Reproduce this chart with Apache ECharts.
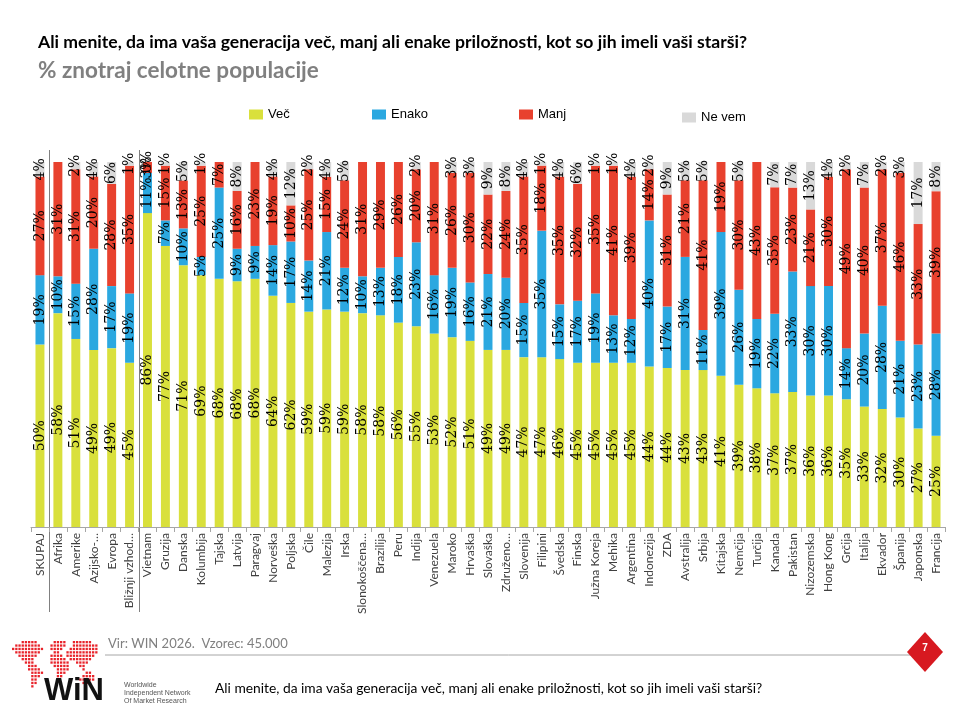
<!DOCTYPE html>
<html>
<head>
<meta charset="utf-8">
<title>WIN 2026</title>
<script src="https://cdn.jsdelivr.net/npm/echarts@6/dist/echarts.min.js"></script>
<style>
  html, body { margin: 0; padding: 0; background: #fff; }
  #main { width: 960px; height: 720px; }
</style>
</head>
<body>
<div id="main"></div>
<script>
'use strict';

var categories = ['SKUPAJ', 'Afrika', 'Amerike', 'Azijsko-…', 'Evropa', 'Bližnji vzhod…',
    'Vietnam', 'Gruzija', 'Danska', 'Kolumbija', 'Tajska', 'Latvija', 'Paragvaj', 'Norveška',
    'Poljska', 'Čile', 'Malezija', 'Irska', 'Slonokoščena…', 'Brazilija', 'Peru', 'Indija',
    'Venezuela', 'Maroko', 'Hrvaška', 'Slovaška', 'Združeno…', 'Slovenija', 'Filipini', 'Švedska',
    'Finska', 'Južna Koreja', 'Mehika', 'Argentina', 'Indonezija', 'ZDA', 'Avstralija', 'Srbija',
    'Kitajska', 'Nemčija', 'Turčija', 'Kanada', 'Pakistan', 'Nizozemska', 'Hong Kong', 'Grčija',
    'Italija', 'Ekvador', 'Španija', 'Japonska', 'Francija'];

var vec = [50, 58, 51, 49, 49, 45,
    86, 77, 71, 69, 68, 68, 68, 64, 62, 59, 59, 59, 58, 58, 56, 55, 53, 52, 51, 49, 49, 47, 47, 46,
    45, 45, 45, 45, 44, 44, 43, 43, 41, 39, 38, 37, 37, 36, 36, 35, 33, 32, 30, 27, 25];

var enako = [19, 10, 15, 28, 17, 19,
    11, 7, 10, 5, 25, 9, 9, 14, 17, 14, 21, 12, 10, 13, 18, 23, 16, 19, 16, 21, 20, 15, 35, 15,
    17, 19, 13, 12, 40, 17, 31, 11, 39, 26, 19, 22, 33, 30, 30, 14, 20, 28, 21, 23, 28];

var manj = [27, 31, 31, 20, 28, 35,
    3, 15, 13, 25, 7, 16, 23, 19, 10, 25, 15, 24, 31, 29, 26, 20, 31, 26, 30, 22, 24, 35, 18, 35,
    32, 35, 41, 39, 14, 31, 21, 41, 19, 30, 43, 35, 23, 21, 30, 49, 40, 37, 46, 33, 39];

// null = ni podatka (brez oznake)
var neVem = [4, null, 2, 4, 6, 1,
    0, 1, 5, 1, null, 8, null, 4, 12, 2, 4, 5, null, null, null, 2, null, 3, 3, 9, 8, 4, 1, 4,
    6, 1, 1, 4, 2, 9, 5, 5, null, 5, null, 7, 7, 13, 4, 2, 7, 2, 3, 17, 8];

var seriesNames = ['Več', 'Enako', 'Manj', 'Ne vem'];
var seriesColors = ['#D9E03C', '#2BA8E0', '#E8412E', '#D9D9D9'];

var worldMask = [
    '   .....     ....  ......  ',
    ' ........   .....  ........',
    '..........  ....  .........',
    ' ........    ..  ..........',
    '  ......    .... ......... ',
    '   ....     ..... .......  ',
    '    ...     ......  ....   ',
    '     ...     .....   ..    ',
    '     ....     ....    .    ',
    '      ....    ...      ..  ',
    '      ...     ..      .... ',
    '      ..             ..... ',
    '      ..              ...  ',
    '      .                    '
];

var chart = echarts.init(document.getElementById('main'));

var totals = categories.map(function (c, i) {
    return vec[i] + enako[i] + manj[i] + (neVem[i] || 0);
});

var makeSeries = function (name, arr, color) {
    return {
        name: name,
        type: 'bar',
        stack: 'all',
        barWidth: '50%',
        itemStyle: { color: color },
        label: {
            show: true,
            position: 'inside',
            rotate: 90,
            color: '#000',
            fontFamily: 'DejaVu Serif',
            fontSize: 14,
            formatter: function (p) {
                return p.data.raw === null ? '' : p.data.raw + '%';
            }
        },
        data: arr.map(function (v, i) {
            // 100 % naložen stolpec kot v izvirniku
            return { value: v === null ? 0 : v / totals[i] * 100, raw: v };
        })
    };
};

var legendLeft = [244, 367, 514, 677];
var legends = seriesNames.map(function (name, i) {
    return {
        data: [name],
        left: legendLeft[i],
        top: i === 3 ? 106 : 103,
        icon: 'rect',
        itemWidth: 14,
        itemHeight: 10,
        itemGap: 8,
        selectedMode: false,
        textStyle: { fontFamily: 'Liberation Sans', fontSize: 13, color: '#000' }
    };
});

var graphics = [];

// logo: pikčast zemljevid
worldMask.forEach(function (row, r) {
    for (var c = 0; c < row.length; c++) {
        if (row.charAt(c) === '.') {
            graphics.push({
                type: 'rect',
                shape: { x: 12 + c * 3.2, y: 641 + r * 3.4, width: 2.3, height: 2.3 },
                style: { fill: '#E8232A' },
                silent: true
            });
        }
    }
});

graphics.push(
    { type: 'text', left: 44, top: 676, style: { text: 'WiN', font: 'bold 31px "Liberation Sans"', fill: '#111' } },
    { type: 'text', left: 124, top: 681, style: { text: 'Worldwide\nIndependent Network\nOf Market Research', font: '7px "Liberation Sans"', fill: '#555', lineHeight: 8 } },
    { type: 'text', left: 215, top: 682, style: { text: 'Ali menite, da ima vaša generacija več, manj ali enake priložnosti, kot so jih imeli vaši starši?', font: '13.8px Lato', fill: '#000' } },
    { type: 'text', left: 108, top: 637, style: { text: 'Vir: WIN 2026.  Vzorec: 45.000', font: '13px Lato', fill: '#7f7f7f' } },
    { type: 'line', shape: { x1: 105, y1: 655, x2: 912, y2: 655 }, style: { stroke: '#a6a6a6', lineWidth: 1 } },
    { type: 'polygon', shape: { points: [[925, 632], [943, 652], [925, 672], [907, 652]] }, style: { fill: '#D71920' } },
    { type: 'text', x: 925, y: 648, style: { text: '7', font: 'bold 10px "Liberation Sans"', fill: '#fff', align: 'center', verticalAlign: 'middle' } }
);

var option = {
    animation: false,
    title: [{
        text: 'Ali menite, da ima vaša generacija več, manj ali enake priložnosti, kot so jih imeli vaši starši?',
        left: 33,
        top: 28,
        textStyle: { fontFamily: 'Lato', fontSize: 17.6, fontWeight: 'bold', color: '#000' }
    }, {
        text: '% znotraj celotne populacije',
        left: 33,
        top: 54,
        textStyle: { fontFamily: 'Lato', fontSize: 22.5, fontWeight: 'bold', color: '#808080' }
    }],
    legend: legends,
    grid: { left: 31, right: 15, top: 162, bottom: 193 },
    xAxis: {
        type: 'category',
        data: categories,
        axisLine: { lineStyle: { color: '#a6a6a6' } },
        axisTick: { show: true, length: 5, lineStyle: { color: '#a6a6a6' } },
        axisLabel: {
            interval: 0,
            rotate: 90,
            margin: 6,
            fontFamily: 'Lato',
            fontSize: 12,
            color: '#404040'
        }
    },
    yAxis: { type: 'value', min: 0, max: 100, show: false },
    series: [
        makeSeries(seriesNames[0], vec, seriesColors[0]),
        makeSeries(seriesNames[1], enako, seriesColors[1]),
        makeSeries(seriesNames[2], manj, seriesColors[2]),
        makeSeries(seriesNames[3], neVem, seriesColors[3])
    ],
    graphic: graphics
};

chart.setOption(option);

// ločnici med skupinami (SKUPAJ | regije | države)
var boundaryX = function (idx) {
    var a = chart.convertToPixel({ xAxisIndex: 0 }, idx - 1);
    var b = chart.convertToPixel({ xAxisIndex: 0 }, idx);
    return Math.round((a + b) / 2) + 0.5;
};
[1, 6].forEach(function (idx) {
    var x = boundaryX(idx);
    graphics.push({ type: 'line', shape: { x1: x, y1: 150, x2: x, y2: 612 }, style: { stroke: '#808080', lineWidth: 1 } });
});
chart.setOption({ graphic: graphics });
</script>
</body>
</html>
